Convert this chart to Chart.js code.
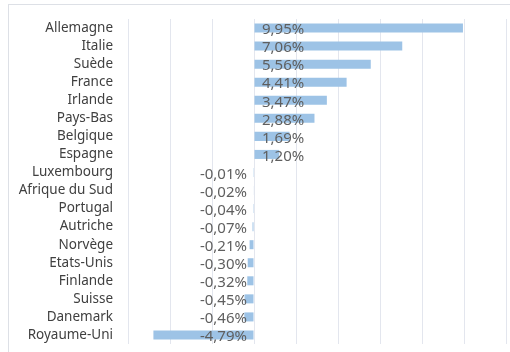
<!DOCTYPE html>
<html>
<head>
<meta charset="utf-8">
<script src="https://cdn.jsdelivr.net/npm/chart.js@4/dist/chart.umd.min.js"></script>
<style>
  html, body { margin: 0; padding: 0; background: #fff; overflow: hidden; }
  #wrap { position: relative; width: 510px; height: 352px; }
  #frame { position: absolute; left: 8px; top: 4px; width: 520px; height: 370px; border: 1px solid #DDE0E6; box-sizing: border-box; }
  #c { position: absolute; left: 0; top: 0; }
</style>
</head>
<body>
<div id="wrap">
  <div id="frame"></div>
  <canvas id="c" width="510" height="352"></canvas>
</div>
<script>
// Countries and their change in percent
const countries = [
  'Allemagne', 'Italie', 'Suède', 'France', 'Irlande', 'Pays-Bas', 'Belgique', 'Espagne',
  'Luxembourg', 'Afrique du Sud', 'Portugal', 'Autriche', 'Norvège', 'Etats-Unis',
  'Finlande', 'Suisse', 'Danemark', 'Royaume-Uni'
];
const values = [
  9.95, 7.06, 5.56, 4.41, 3.47, 2.88, 1.69, 1.20,
  -0.01, -0.02, -0.04, -0.07, -0.21, -0.30,
  -0.32, -0.45, -0.46, -4.79
];
const axisMin = -6;
const axisMax = 12;
const axisStep = 2;

const fmt = v => v.toFixed(2).replace('.', ',') + '%';
const FONT = '"Noto Sans", "Open Sans", sans-serif';

// Value labels: positives start just right of zero, negatives end just left of it
const valueLabels = {
  id: 'valueLabels',
  afterDatasetsDraw(chart) {
    const ctx = chart.ctx;
    const xs = chart.scales.x;
    const zero = xs.getPixelForValue(0);
    const meta = chart.getDatasetMeta(0);
    ctx.save();
    ctx.font = '15px ' + FONT;
    ctx.fillStyle = '#5f5f5f';
    ctx.textBaseline = 'middle';
    meta.data.forEach((bar, i) => {
      const v = values[i];
      const y = bar.y + 2;
      if (v >= 0) {
        ctx.textAlign = 'left';
        ctx.fillText(fmt(v), zero + 8, y);
      } else {
        ctx.textAlign = 'right';
        ctx.fillText(fmt(v), zero - 7, y);
      }
    });
    ctx.restore();
  }
};

new Chart(document.getElementById('c'), {
  type: 'bar',
  data: {
    labels: countries,
    datasets: [{
      data: values,
      backgroundColor: '#9DC3E6',
      borderWidth: 0,
      barPercentage: 0.5,
      categoryPercentage: 1.0
    }]
  },
  options: {
    indexAxis: 'y',
    responsive: false,
    animation: false,
    devicePixelRatio: 1,
    layout: { padding: { left: 0, right: 4, top: 19, bottom: 8 } },
    plugins: {
      legend: { display: false },
      tooltip: { enabled: false }
    },
    scales: {
      x: {
        min: axisMin,
        max: axisMax,
        afterFit(scale) { scale.height = 0; },
        ticks: { display: false, stepSize: axisStep },
        grid: { color: '#E3E6EE', lineWidth: 1, drawTicks: false },
        border: { display: false }
      },
      y: {
        afterFit(scale) {
          scale.width = 128;
          scale.paddingTop = 0;
          scale.paddingBottom = 0;
        },
        ticks: {
          color: '#404040',
          font: { size: 13.5, family: FONT },
          padding: 15,
          autoSkip: false
        },
        grid: { display: false, drawTicks: false },
        border: { display: false }
      }
    }
  },
  plugins: [valueLabels]
});
</script>
</body>
</html>
